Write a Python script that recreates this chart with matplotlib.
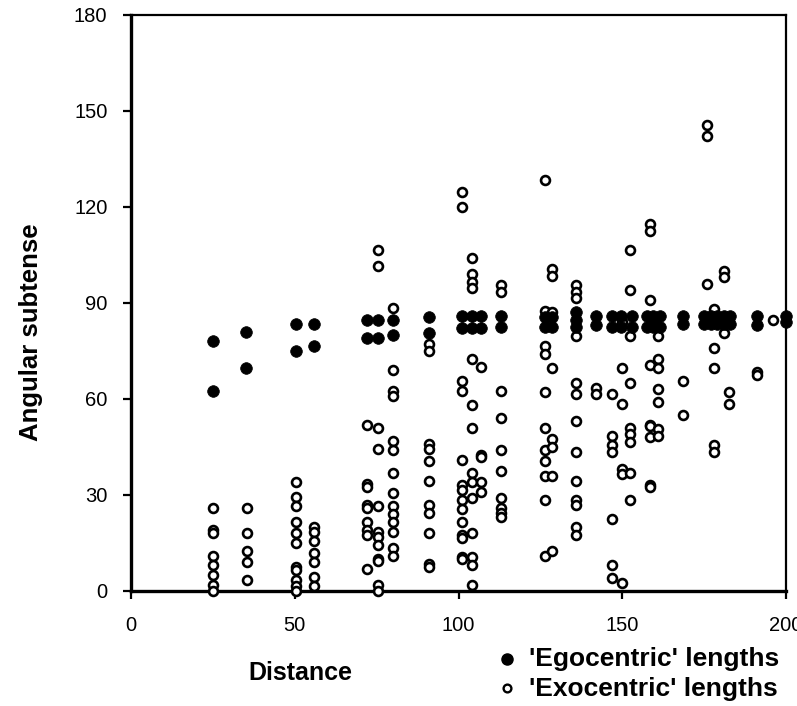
import numpy as np
import matplotlib
matplotlib.use("Agg")
import matplotlib.pyplot as plt
from matplotlib.lines import Line2D

plt.rcParams['font.family'] = ['Liberation Sans', 'DejaVu Sans']

# distance column -> angular subtense values
egocentric = [
    (25, [78, 62.5]),
    (35, [81, 69.5]),
    (50.5, [83.5, 75]),
    (56, [83.5, 76.5]),
    (72, [84.5, 79]),
    (75.5, [84.5, 79]),
    (80, [84.5, 80]),
    (91, [85.5, 80.5]),
    (101, [86, 82]),
    (104, [86, 82]),
    (107, [86, 82]),
    (113, [86, 82.5]),
    (126.5, [85.5, 82.5]),
    (128.5, [85.5, 82.5]),
    (136, [87, 84.5, 82.5]),
    (142, [86, 83]),
    (147, [86, 82.5]),
    (149.5, [86, 82.5]),
    (153, [86, 82.5]),
    (157.5, [86, 82.5]),
    (159.5, [86, 83.5, 82.5]),
    (161.5, [86, 82.5]),
    (168.5, [86, 83.5]),
    (175, [86, 83.5]),
    (177, [86, 83.5]),
    (179, [86, 83.5]),
    (181, [86, 83.5]),
    (183, [86, 83.5]),
    (191, [86, 83]),
    (200, [86, 84]),
]

exocentric = [
    (25, [26, 19, 18, 11, 8, 5, 2, 0]),
    (35.5, [26, 18, 12.5, 9, 3.5]),
    (50.5, [34, 29.5, 26.5, 21.5, 18, 15, 7.5, 6.5, 3.5, 1.5, 0]),
    (56, [20, 18.5, 15.5, 12, 9, 4.5, 1.5]),
    (72, [52, 33.5, 32.5, 27, 26, 21.5, 19, 17.5, 7]),
    (75.5, [106.5, 101.5, 51, 44.5, 26.5, 18.5, 17, 14.5, 10, 9.5, 2, 0]),
    (80, [88.5, 69, 62.5, 61, 47, 44, 37, 30.5, 26.5, 24, 21.5, 18.5, 13.5, 11]),
    (91, [77, 75, 46, 44.5, 40.5, 34.5, 27, 24.5, 18, 8.5, 7.5]),
    (101, [124.5, 120, 65.5, 62.5, 41, 33, 31.5, 28.5, 25.5, 21.5, 17.5, 16.5, 10.5, 10]),
    (104, [104, 99, 96.5, 94.5, 72.5, 58, 51, 37, 34, 29, 18, 10.5, 8, 2]),
    (107, [70, 42.5, 42, 34, 31]),
    (113, [95.5, 93.5, 62.5, 54, 44, 37.5, 29, 26, 24.5, 23]),
    (126.5, [128.5, 87.5, 76.5, 74, 62, 51, 44, 40.5, 36, 28.5, 11]),
    (128.5, [100.5, 98.5, 87, 69.5, 47.5, 45, 36, 12.5]),
    (136, [95.5, 93.5, 91.5, 79.5, 65, 61.5, 53, 43.5, 34.5, 28.5, 27, 20, 17.5]),
    (142, [63.5, 61.5]),
    (147, [61.5, 48.5, 45.5, 43.5, 22.5, 8, 4]),
    (150, [84, 69.5, 58.5, 38, 36.5, 2.5]),
    (152.5, [106.5, 94, 79.5, 65, 51, 49, 46.5, 37, 28.5]),
    (158.5, [114.5, 112.5, 91, 70.5, 52, 51.5, 48, 33, 32.5]),
    (161, [79.5, 72.5, 69.5, 63, 59, 50.5, 48.5]),
    (168.5, [65.5, 55]),
    (176, [145.5, 142, 96]),
    (178, [88, 76, 69.5, 45.5, 43.5]),
    (181, [100, 98, 80.5]),
    (182.5, [62, 58.5]),
    (191, [68.5, 67.5]),
    (196, [84.5]),
]

x_ticks = [0, 50, 100, 150, 200]
y_ticks = [0, 30, 60, 90, 120, 150, 180]


def flatten(cols):
    xs, ys = [], []
    for d, vals in cols:
        for v in vals:
            xs.append(d)
            ys.append(v)
    return xs, ys


ego_x, ego_y = flatten(egocentric)
exo_x, exo_y = flatten(exocentric)

fig = plt.figure(figsize=(7.97, 7.06), dpi=100)
ax = fig.add_axes([0.1644, 0.1629, 0.8218, 0.8163])

ax.plot(exo_x, exo_y, 'o', ms=6.4, mfc='white', mec='black', mew=1.9,
        clip_on=False, zorder=3)
ax.plot(ego_x, ego_y, 'o', ms=8.4, mfc='black', mec='black', mew=0.5,
        clip_on=False, zorder=4)

ax.set_xlim(0, 200)
ax.set_ylim(0, 180)
ax.set_xticks(x_ticks)
ax.set_yticks(y_ticks)
ax.tick_params(axis='both', direction='out', length=6, width=1.6,
               labelsize=14.5, pad=11)
ax.tick_params(axis='x', pad=12)

for side in ['left', 'bottom']:
    ax.spines[side].set_linewidth(2.4)
for side in ['top', 'right']:
    ax.spines[side].set_linewidth(1.6)

fig.text(31 / 797, 1 - 332 / 706, 'Angular subtense', rotation=90,
         fontsize=18.5, fontweight='bold', ha='center', va='center')
fig.text(300 / 797, 1 - 673 / 706, 'Distance', fontsize=18,
         fontweight='bold', ha='center', va='center')

# legend drawn below the axes
fig.add_artist(Line2D([507 / 797], [1 - 659 / 706], marker='o', ms=8.0,
                      mfc='black', mec='black', ls='none'))
fig.add_artist(Line2D([507 / 797], [1 - 688 / 706], marker='o', ms=5.6,
                      mfc='white', mec='black', mew=1.7, ls='none'))
fig.text(529 / 797, 1 - 659 / 706, "'Egocentric' lengths", fontsize=19,
         fontweight='bold', ha='left', va='center')
fig.text(529 / 797, 1 - 689 / 706, "'Exocentric' lengths", fontsize=19,
         fontweight='bold', ha='left', va='center')

fig.savefig('out.png', dpi=100)
